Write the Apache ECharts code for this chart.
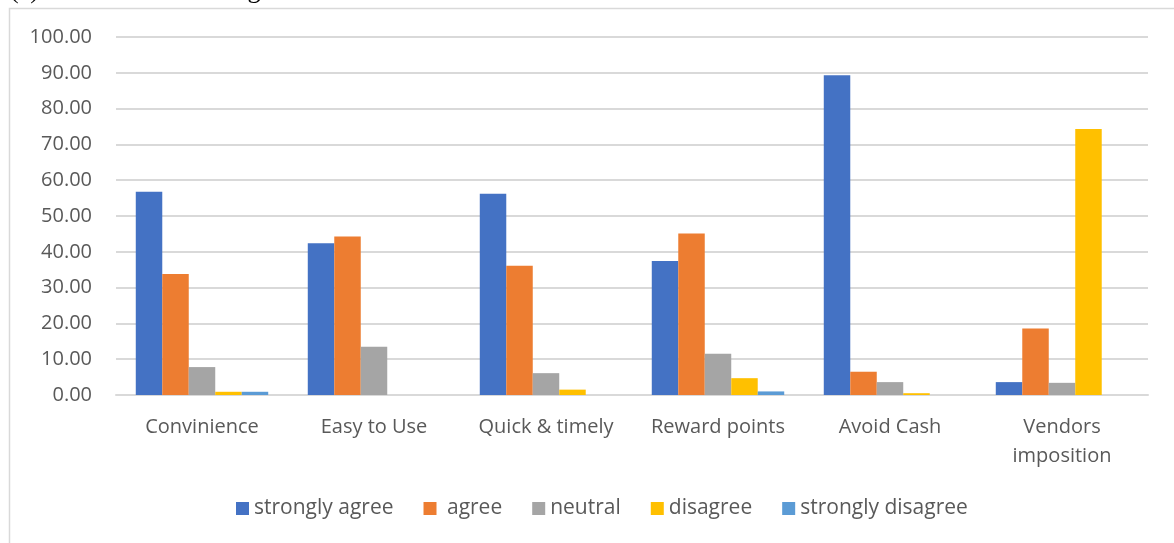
<!DOCTYPE html>
<html>
<head>
<meta charset="utf-8">
<script src="https://cdn.jsdelivr.net/npm/echarts@6/dist/echarts.min.js"></script>
<style>
  html, body { margin: 0; padding: 0; background: #ffffff; }
  #chart { width: 1174px; height: 543px; }
</style>
</head>
<body>
<div id="chart"></div>
<script>
// Survey: reasons for using the service, % of respondents per answer
const categories = ['Convinience', 'Easy to Use', 'Quick & timely', 'Reward points', 'Avoid Cash', 'Vendors\nimposition'];
const seriesNames = ['strongly agree', ' agree', 'neutral', 'disagree', 'strongly disagree'];
const stronglyAgree = [56.8, 42.4, 56.2, 37.4, 89.3, 3.6];
const agree = [33.8, 44.3, 36.1, 45.1, 6.5, 18.6];
const neutral = [7.8, 13.5, 6.1, 11.5, 3.6, 3.4];
const disagree = [0.9, 0, 1.5, 4.7, 0.5, 74.3];
const stronglyDisagree = [0.9, 0, 0, 1.0, 0, 0];
const yTicks = { min: 0, max: 100, step: 10 };

const colors = ['#4472C4', '#ED7D31', '#A5A5A5', '#FFC000', '#5B9BD5'];
const values = [stronglyAgree, agree, neutral, disagree, stronglyDisagree];
const font = '"Open Sans", "Liberation Sans", sans-serif';

const chart = echarts.init(document.getElementById('chart'), null, { renderer: 'canvas' });

chart.setOption({
  animation: false,
  backgroundColor: '#ffffff',
  color: colors,
  graphic: [
    {
      type: 'rect',
      shape: { x: 9.5, y: 8.5, width: 1300, height: 600 },
      style: { fill: 'none', stroke: '#d9d9d9', lineWidth: 1.5 },
      silent: true
    },
    {
      type: 'text',
      left: 10,
      top: -22,
      style: {
        text: '(c)       Reason for using Mobile Wallet',
        font: '26px "Liberation Serif", serif',
        fill: '#000000'
      },
      silent: true
    }
  ],
  grid: { left: 116, right: 26, top: 37, bottom: 148, containLabel: false },
  legend: {
    bottom: 19,
    left: 231,
    itemWidth: 13,
    itemHeight: 13,
    itemGap: 30,
    icon: 'rect',
    textStyle: { fontFamily: font, fontSize: 21, color: '#595959' },
    data: seriesNames
  },
  xAxis: {
    type: 'category',
    data: categories,
    axisLine: { show: true, lineStyle: { color: '#d9d9d9', width: 2 } },
    axisTick: { show: false },
    axisLabel: {
      fontFamily: font,
      fontSize: 20,
      color: '#595959',
      margin: 18,
      lineHeight: 29,
      interval: 0
    }
  },
  yAxis: {
    type: 'value',
    min: yTicks.min,
    max: yTicks.max,
    interval: yTicks.step,
    axisLine: { show: false },
    axisTick: { show: false },
    splitLine: { lineStyle: { color: '#d9d9d9', width: 2 } },
    axisLabel: {
      fontFamily: font,
      fontSize: 20,
      color: '#595959',
      margin: 24,
      formatter: v => v.toFixed(2)
    }
  },
  series: seriesNames.map((name, i) => ({
    name,
    type: 'bar',
    data: values[i],
    barGap: '0%',
    barCategoryGap: '23%',
    itemStyle: { color: colors[i] }
  }))
});
</script>
</body>
</html>
